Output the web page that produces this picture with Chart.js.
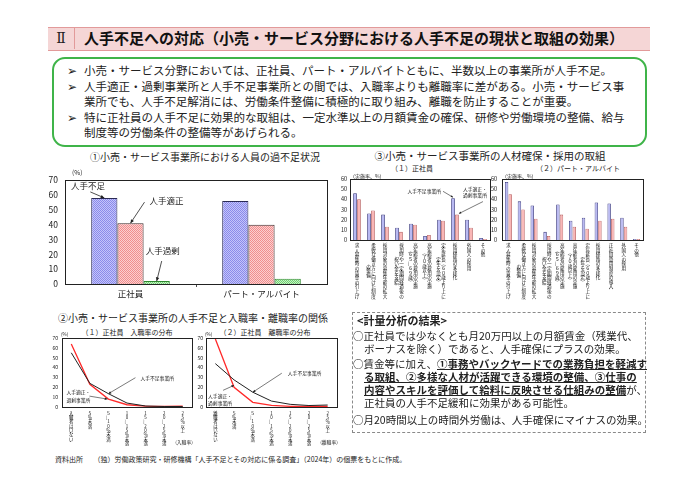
<!DOCTYPE html>
<html lang="ja">
<head>
<meta charset="UTF-8">
<title>人手不足への対応</title>
<script src="https://cdn.jsdelivr.net/npm/chart.js@4.4.1/dist/chart.umd.min.js"></script>
<style>
  body { margin:0; width:700px; height:493px; background:#fff; position:relative; overflow:hidden;
         font-family:"Noto Sans CJK JP", sans-serif; color:#222; }
  .abs { position:absolute; white-space:nowrap; }
  canvas { position:absolute; }
  #titlebar { left:48px; top:27px; width:602px; height:22px; background:#f5d6d6;
              border-top:1px solid #e29a9a; border-bottom:1px solid #e29a9a; }
  #roman { left:48px; top:27px; width:26px; height:22px; border-right:1px solid #e29a9a;
           font-size:14px; line-height:22px; text-align:center; font-family:"DejaVu Serif", serif; }
  #title { left:84px; top:27px; font-size:15px; font-weight:bold; line-height:22px; color:#111; }
  #greenbox { left:52px; top:57px; width:591px; height:86px; border:2.5px solid #3fb449; border-radius:13px; }
  .gl { font-size:11.5px; line-height:15px; color:#222; }
  .ct { font-size:10px; line-height:12px; text-align:center; }
  .sub { font-size:7px; line-height:9px; text-align:center; }
  #kbox { left:352px; top:312px; width:292px; height:119px; border:1px dashed #8a8a8a; }
  .kl { font-size:10.5px; line-height:13px; color:#222; }
  .kl b { text-decoration:underline; }
  #foot { left:55px; top:455px; font-size:7px; line-height:9px; color:#222; }
</style>
</head>
<body>

<div id="titlebar" class="abs"></div>
<div id="roman" class="abs">Ⅱ</div>
<div id="title" class="abs">人手不足への対応（小売・サービス分野における人手不足の現状と取組の効果）</div>

<div id="greenbox" class="abs"></div>
<div class="abs gl" style="left:67px;top:63px">➢</div>
<div class="abs gl" style="left:84px;top:63px">小売・サービス分野においては、正社員、パート・アルバイトともに、半数以上の事業所が人手不足。</div>
<div class="abs gl" style="left:67px;top:79px">➢</div>
<div class="abs gl" style="left:84px;top:79px">人手適正・過剰事業所と人手不足事業所との間では、入職率よりも離職率に差がある。小売・サービス事</div>
<div class="abs gl" style="left:84px;top:94px">業所でも、人手不足解消には、労働条件整備に積極的に取り組み、離職を防止することが重要。</div>
<div class="abs gl" style="left:67px;top:110px">➢</div>
<div class="abs gl" style="left:84px;top:110px">特に正社員の人手不足に効果的な取組は、一定水準以上の月額賃金の確保、研修や労働環境の整備、給与</div>
<div class="abs gl" style="left:84px;top:125px">制度等の労働条件の整備等があげられる。</div>

<div class="abs ct" style="left:60px;top:151px;width:290px">①小売・サービス事業所における人員の過不足状況</div>
<div class="abs ct" style="left:360px;top:150px;width:260px;font-size:10.5px">③小売・サービス事業所の人材確保・採用の取組</div>
<div class="abs sub" style="left:362px;top:164px;width:100px">（１）正社員</div>
<div class="abs sub" style="left:520px;top:164px;width:116px">（２）パート・アルバイト</div>
<div class="abs ct" style="left:45px;top:312px;width:296px">②小売・サービス事業所の人手不足と入職率・離職率の関係</div>
<div class="abs sub" style="left:70px;top:328px;width:114px">（１）正社員　入職率の分布</div>
<div class="abs sub" style="left:208px;top:328px;width:114px">（２）正社員　離職率の分布</div>

<canvas id="c1" width="300" height="140" style="left:40px;top:168px"></canvas>
<canvas id="c3a" width="160" height="134" style="left:334px;top:170px"></canvas>
<canvas id="c3b" width="160" height="134" style="left:488px;top:170px"></canvas>
<canvas id="c2a" width="152" height="118" style="left:44px;top:328px"></canvas>
<canvas id="c2b" width="152" height="118" style="left:190px;top:328px"></canvas>

<div id="kbox" class="abs"></div>
<div class="abs kl" style="left:357px;top:314px;font-weight:bold;font-size:11px">&lt;計量分析の結果&gt;</div>
<div class="abs kl" style="left:353px;top:329px">○正社員では少なくとも月20万円以上の月額賃金（残業代、</div>
<div class="abs kl" style="left:364px;top:342px">ボーナスを除く）であると、人手確保にプラスの効果。</div>
<div class="abs kl" style="left:353px;top:357px">○賃金等に加え、<b>①事務やバックヤードでの業務負担を軽減す</b></div>
<div class="abs kl" style="left:364px;top:370px"><b>る取組、②多様な人材が活躍できる環境の整備、③仕事の</b></div>
<div class="abs kl" style="left:364px;top:383px"><b>内容やスキルを評価して給料に反映させる仕組みの整備</b>が、</div>
<div class="abs kl" style="left:364px;top:396px">正社員の人手不足緩和に効果がある可能性。</div>
<div class="abs kl" style="left:353px;top:413px">○月20時間以上の時間外労働は、人手確保にマイナスの効果。</div>

<div id="foot" class="abs">資料出所　　（独）労働政策研究・研修機構「人手不足とその対応に係る調査」（2024年）の個票をもとに作成。</div>

<script>
// ① 過不足状況 (%)
var staffTypes = ['正社員', 'パート・アルバイト'];
var shortage = [58, 56];
var adequate = [41, 40];
var excess = [2, 3.5];

// ③ 人材確保・採用の取組 (実施率 %)
var measuresRegular = [
    ['求人募集時の賃金の引上げ'],
    ['柔軟な働き方に向けた制度', 'の整備'],
    ['採用対象の募集年齢の拡大'],
    ['採用時や一定期間経過後の', '祝い金を支給'],
    ['高年齢者の雇用の実施', '（６５～６９歳）'],
    ['高年齢者の雇用の実施', '（７０歳以上）'],
    ['定年延長（６０歳より上に', '定年を設定）'],
    ['採用経路の多様化'],
    ['外国人の採用'],
    ['その他']
];
var regShort = [46, 26, 25, 12, 16, 4, 20, 41, 20, 2];
var regOther = [40, 29, 13, 8, 15, 5, 19, 25, 12, 1];

var measuresPart = [
    ['求人募集時の賃金の引上げ'],
    ['柔軟な働き方に向けた制度', 'の整備'],
    ['採用対象の募集年齢の拡大'],
    ['採用時や一定期間経過後の', '祝い金を支給'],
    ['高年齢者の雇用の実施', '（６５～６９歳）'],
    ['高年齢者の雇用の実施', '（７０歳以上）'],
    ['定年延長（６０歳より上に', '定年を設定）'],
    ['採用経路の多様化'],
    ['正社員登用制度の導入'],
    ['外国人の採用'],
    ['その他']
];
var partShort = [57, 38, 34, 8, 35, 19, 22, 37, 36, 22, 1];
var partOther = [45, 30, 21, 4, 25, 13, 11, 19, 21, 13, 1];

// ② 入職率・離職率の分布 (%)
var hireBands = ['入職者はいない', '５％未満', '５～10％未満', '10～15％未満', '15～20％未満', '20～25％未満', '25％以上'];
var hireShort = [55, 24, 13.5, 4, 1, 0.5, 0.5];
var hireOther = [64, 23, 8, 2.3, 0.8, 0.5, 0.8];
var sepBands = ['離職者はいない', '５％未満', '５～10％未満', '10～15％未満', '15～20％未満', '20～25％未満', '25％以上'];
var sepShort = [44, 27.5, 15, 6, 2.7, 1.5, 2];
var sepOther = [69, 20, 4.7, 1.7, 0.7, 0.5, 0.5];

var FONT = '"Noto Sans CJK JP", sans-serif';
Chart.defaults.font.family = FONT;
Chart.defaults.color = '#222';
Chart.defaults.animation = false;

function dots(base, dot) {
    var c = document.createElement('canvas');
    c.width = 2; c.height = 2;
    var g = c.getContext('2d');
    g.fillStyle = base; g.fillRect(0, 0, 2, 2);
    g.fillStyle = dot; g.fillRect(0, 0, 1, 1); g.fillRect(1, 1, 1, 1);
    return g.createPattern(c, 'repeat');
}

function yAxis(max, w, size, pad) {
    return {
        min: 0, max: max,
        border: { display: false },
        grid: { display: false, drawTicks: false, tickLength: 0 },
        ticks: { stepSize: 10, font: { size: size }, padding: pad, color: '#222' },
        afterFit: function (s) { s.width = w; }
    };
}
function xHidden(h) {
    return {
        border: { display: false },
        grid: { display: false, drawTicks: false, tickLength: 0 },
        ticks: { display: false },
        afterFit: function (s) { s.height = h; }
    };
}

var frame = {
    id: 'frame',
    afterDatasetsDraw: function (chart) {
        var a = chart.chartArea, c = chart.ctx;
        c.save();
        c.strokeStyle = '#222';
        c.lineWidth = 1;
        c.strokeRect(Math.round(a.left) + 0.5, Math.round(a.top) + 0.5,
            Math.round(a.right - a.left), Math.round(a.bottom - a.top));
        c.restore();
    }
};

function arrow(c, x1, y1, x2, y2, head) {
    c.beginPath(); c.moveTo(x1, y1); c.lineTo(x2, y2); c.stroke();
    var a = Math.atan2(y2 - y1, x2 - x1);
    c.beginPath();
    c.moveTo(x2, y2);
    c.lineTo(x2 - head * Math.cos(a - 0.45), y2 - head * Math.sin(a - 0.45));
    c.lineTo(x2 - head * Math.cos(a + 0.45), y2 - head * Math.sin(a + 0.45));
    c.closePath(); c.fill();
}

function txt(c, s, x, y, size, align) {
    c.font = size + 'px ' + FONT;
    c.textAlign = align || 'left';
    c.textBaseline = 'middle';
    c.fillText(s, x, y);
}

var vmap = { '（': '︵', '）': '︶', '～': '︴', '、': '︑' };
// vertical (tategaki) tick labels, columns right to left
function vertLabels(labels, size, step, gap, colW) {
    return {
        id: 'vlab',
        afterDraw: function (chart) {
            var c = chart.ctx, xs = chart.scales.x;
            c.save();
            c.fillStyle = '#111';
            c.font = size + 'px ' + FONT;
            c.textAlign = 'center';
            c.textBaseline = 'top';
            labels.forEach(function (cols, i) {
                if (typeof cols === 'string') cols = [cols];
                var x = xs.getPixelForValue(i);
                var longest = Math.max.apply(null, cols.map(function (s) { return Array.from(s).length; }));
                cols.forEach(function (col, j) {
                    var chars = Array.from(col);
                    var cx = x + (cols.length - 1) * colW / 2 - j * colW;
                    var y0 = xs.top + gap + (longest - chars.length) * step / 2;
                    if (j === 0) y0 = xs.top + gap;
                    chars.forEach(function (ch, k) {
                        c.fillText(vmap[ch] || ch, cx, y0 + k * step);
                    });
                });
            });
            c.restore();
        }
    };
}

// ---------- ① ----------
var ctx1 = document.getElementById('c1').getContext('2d');
new Chart(ctx1, {
    type: 'bar',
    data: {
        labels: staffTypes,
        datasets: [
            { label: '人手不足', data: shortage, backgroundColor: dots('#c4c4fa', '#8a8aea'), borderColor: '#2a2a55', borderWidth: 1 },
            { label: '人手適正', data: adequate, backgroundColor: dots('#fcd0d0', '#f08e8e'), borderColor: '#3a2a2a', borderWidth: 1 },
            { label: '人手過剰', data: excess, backgroundColor: dots('#c6f2c6', '#72d072'), borderColor: '#2f8a2f', borderWidth: 1 }
        ]
    },
    options: {
        responsive: false,
        layout: { padding: { top: 9, right: 13, left: 0, bottom: 0 } },
        plugins: { legend: { display: false }, tooltip: { enabled: false } },
        datasets: { bar: { categoryPercentage: 0.6, barPercentage: 1 } },
        scales: {
            x: {
                border: { display: false },
                grid: { display: false, drawTicks: false, tickLength: 0 },
                ticks: { font: { size: 8.5 }, padding: 5, color: '#222' },
                afterFit: function (s) { s.height = 24; }
            },
            y: yAxis(70, 25, 8.5, 7)
        }
    },
    plugins: [frame, {
        id: 'notes1',
        afterDraw: function (chart) {
            var c = chart.ctx;
            var b0 = chart.getDatasetMeta(0).data[0];
            var b1 = chart.getDatasetMeta(1).data[0];
            var b2 = chart.getDatasetMeta(2).data[0];
            c.save();
            c.fillStyle = '#222'; c.strokeStyle = '#222'; c.lineWidth = 0.8;
            txt(c, '(%)', 32, 5, 6.5);
            txt(c, '人手不足', 31, b0.y - 12, 8.5);
            arrow(c, b0.x - 14, b0.y - 6, b0.x, b0.y, 4);
            txt(c, '人手適正', b1.x + 19, b1.y - 22, 8.5);
            arrow(c, b1.x + 14, b1.y - 21, b1.x, b1.y, 4);
            txt(c, '人手過剰', b2.x + 6, b2.y - 30, 8.5, 'center');
            arrow(c, b2.x + 5, b2.y - 20, b2.x, b2.y, 4);
            // small tick between the two categories
            var xs = chart.scales.x, a = chart.chartArea;
            var mid = (xs.getPixelForValue(0) + xs.getPixelForValue(1)) / 2;
            c.beginPath(); c.moveTo(Math.round(mid) + 0.5, a.bottom); c.lineTo(Math.round(mid) + 0.5, a.bottom + 3); c.stroke();
            c.restore();
        }
    }]
});

// ---------- ③ ----------
function measureChart(id, labels, s1, s2, yw, ypad, padR, annotate) {
    return new Chart(document.getElementById(id), {
        type: 'bar',
        data: {
            labels: labels.map(function (l) { return l.join(''); }),
            datasets: [
                { label: '人手不足事業所', data: s1, backgroundColor: '#b9b9f2', borderColor: '#33337a', borderWidth: 0.8 },
                { label: '人手適正・過剰事業所', data: s2, backgroundColor: '#f9b6b6', borderColor: '#b55a5a', borderWidth: 0.8 }
            ]
        },
        options: {
            responsive: false,
            layout: { padding: { top: 9, right: padR, left: 0, bottom: 0 } },
            plugins: { legend: { display: false }, tooltip: { enabled: false } },
            datasets: { bar: { categoryPercentage: 0.56, barPercentage: 0.95 } },
            scales: { x: xHidden(64), y: yAxis(60, yw, 5.5, ypad) }
        },
        plugins: [frame, vertLabels(labels, 4.6, 4.6, 3, 5), {
            id: 'notes3',
            afterDraw: function (chart) {
                var c = chart.ctx;
                c.save();
                c.fillStyle = '#222'; c.strokeStyle = '#222'; c.lineWidth = 0.6;
                txt(c, '（実施率、%）', chart.chartArea.left, chart.chartArea.top - 3, 5);
                if (annotate) {
                    var b = chart.getDatasetMeta(0).data[7];
                    var p = chart.getDatasetMeta(1).data[7];
                    txt(c, '人手不足事業所', b.x - 12, b.y - 7, 4.8, 'right');
                    arrow(c, b.x - 10, b.y - 7, b.x, b.y - 1, 2.5);
                    txt(c, '人手適正・', p.x + 6, b.y - 9, 4.8);
                    txt(c, '過剰事業所', p.x + 6, b.y - 3, 4.8);
                    arrow(c, p.x + 26, p.y - 13, p.x + 2, p.y - 1, 2.5);
                }
                c.restore();
            }
        }]
    });
}
measureChart('c3a', measuresRegular, regShort, regOther, 16, 3, 4, true);
measureChart('c3b', measuresPart, partShort, partOther, 14, 5, 5, false);

// ---------- ② ----------
function flowChart(id, bands, s1, s2, yw, ypad, padR, unit, notes) {
    return new Chart(document.getElementById(id), {
        type: 'line',
        data: {
            labels: bands,
            datasets: [
                { label: '人手不足事業所', data: s1, borderColor: '#222', borderWidth: 1, pointRadius: 0, tension: 0 },
                { label: '人手適正・過剰事業所', data: s2, borderColor: '#ff2a2a', borderWidth: 1.3, pointRadius: 0, tension: 0 }
            ]
        },
        options: {
            responsive: false,
            layout: { padding: { top: 10, right: padR, left: 0, bottom: 0 } },
            plugins: { legend: { display: false }, tooltip: { enabled: false } },
            scales: {
                x: Object.assign(xHidden(39), { offset: true }),
                y: yAxis(70, yw, 5, ypad)
            }
        },
        plugins: [frame, vertLabels(bands, 4.4, 4.3, 4, 5), {
            id: 'notes2',
            afterDraw: function (chart) {
                var c = chart.ctx, xs = chart.scales.x, ys = chart.scales.y;
                c.save();
                c.fillStyle = '#222'; c.strokeStyle = '#222'; c.lineWidth = 0.6;
                txt(c, '(%)', chart.chartArea.left - 1, chart.chartArea.top - 4, 4.6);
                txt(c, unit, chart.chartArea.right - 8, chart.height - 4, 4.8, 'center');
                notes(c, xs, ys);
                c.restore();
            }
        }]
    });
}

flowChart('c2a', hireBands, hireShort, hireOther, 18, 4, 4, '(入職率)', function (c, xs, ys) {
    var tx = xs.getPixelForValue(2), ty = ys.getPixelForValue(hireShort[2]);
    txt(c, '人手不足事業所', tx + 32, ty - 16, 4.8);
    arrow(c, tx + 27, ty - 16, tx, ty, 3);
    var rx = xs.getPixelForValue(2) - 1, ry = ys.getPixelForValue(hireOther[2]);
    txt(c, '人手適正・', rx - 41, ry - 7, 4.8);
    txt(c, '過剰事業所', rx - 41, ry + 1, 4.8);
    arrow(c, rx - 18, ry - 3, rx, ry, 3);
});
flowChart('c2b', sepBands, sepShort, sepOther, 16, 3, 5, '(離職率)', function (c, xs, ys) {
    var tx = xs.getPixelForValue(2), ty = ys.getPixelForValue(sepShort[2]);
    txt(c, '人手不足事業所', tx + 35, ty - 19, 4.8);
    arrow(c, tx + 29, ty - 19, tx, ty, 3);
    var rx = xs.getPixelForValue(1), ry = ys.getPixelForValue(22);
    txt(c, '人手適正・', rx - 26, ry + 11, 4.8);
    txt(c, '過剰事業所', rx - 26, ry + 18, 4.8);
    arrow(c, rx - 11, ry + 5, rx, ry, 3);
});
</script>
</body>
</html>
